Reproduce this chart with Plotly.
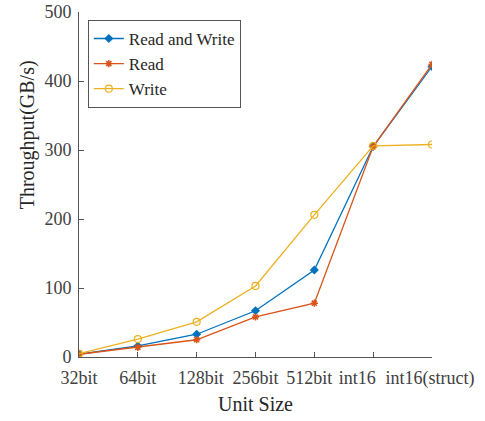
import plotly.graph_objects as go

categories = ["32bit", "64bit", "128bit", "256bit", "512bit", "int16", "int16(struct)"]
read_write = [4, 16, 33, 67, 126, 305, 421]
read = [4, 14, 25, 58, 78, 305, 424]
write = [5, 26, 51, 103, 206, 306, 308]
y_ticks = [0, 100, 200, 300, 400, 500]

# label nudges (in category units) so the labels sit where the reference has them
label_nudge = [0, 0, 0.068, 0, -0.085, -0.272, -0.034]
label_pos = [i + d for i, d in enumerate(label_nudge)]

FONT = "Liberation Serif"
fig = go.Figure()
fig.add_trace(go.Scatter(x=categories, y=read_write, name="Read and Write", mode="lines+markers",
                         line=dict(color="#0072BD", width=1.3),
                         marker=dict(symbol="diamond", size=7, color="#0072BD")))
fig.add_trace(go.Scatter(x=categories, y=read, name="Read", mode="lines+markers",
                         line=dict(color="#D95319", width=1.3),
                         marker=dict(symbol="asterisk-open", size=6, line=dict(color="#D95319", width=1.5))))
fig.add_trace(go.Scatter(x=categories, y=write, name="Write", mode="lines+markers",
                         line=dict(color="#EDB120", width=1.3),
                         marker=dict(symbol="circle-open", size=7, line=dict(color="#EDB120", width=1.2))))
# empty helper trace so the label axis is drawn
fig.add_trace(go.Scatter(x=[], y=[], xaxis="x2", yaxis="y", showlegend=False, hoverinfo="skip"))

axis_common = dict(showline=True, linecolor="#555555", linewidth=1, ticks="inside", ticklen=5,
                   tickcolor="#555555", showgrid=False, zeroline=False, automargin=False,
                   tickfont=dict(family=FONT, size=18, color="#404040"))
fig.update_layout(
    xaxis=dict(range=[0, 6], type="category", showticklabels=False, **axis_common),
    xaxis2=dict(range=[0, 6], type="linear", overlaying="x", anchor="y", side="bottom",
                tickvals=label_pos, ticktext=categories, tickangle=0, ticks="", showline=False,
                showgrid=False, zeroline=False, automargin=False, ticklabelstandoff=8,
                tickfont=dict(family=FONT, size=18, color="#404040"),
                title=dict(text="Unit Size", font=dict(family=FONT, size=20, color="#262626"), standoff=8)),
    yaxis=dict(range=[0, 500], tickvals=y_ticks, ticklabelstandoff=3, **axis_common),
)
fig.add_annotation(text="Throughput(GB/s)", textangle=-90, xref="paper", yref="paper",
                   x=-0.147, y=0.643, xanchor="center", yanchor="middle", showarrow=False,
                   font=dict(family=FONT, size=20, color="#262626"))
fig.update_layout(
    width=485, height=421,
    margin=dict(l=79, r=53, t=12, b=64),
    plot_bgcolor="white", paper_bgcolor="white",
    legend=dict(x=0.025, y=0.977, xanchor="left", yanchor="top",
                bordercolor="#555555", borderwidth=1, bgcolor="white",
                font=dict(family=FONT, size=17, color="#262626"),
                tracegroupgap=0, itemwidth=30),
)
fig.write_html("out.html")
